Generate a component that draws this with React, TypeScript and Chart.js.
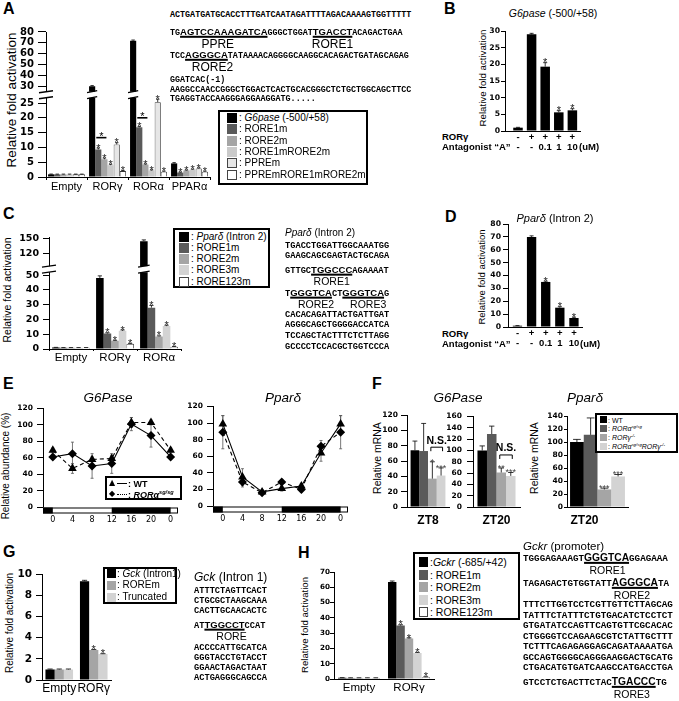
import React, { useEffect, useRef } from 'react';
import { Chart, registerables } from 'chart.js';

Chart.register(...registerables);

const SANS = '"Liberation Sans", Arial, sans-serif';
const MONO = '"Liberation Mono", "DejaVu Sans Mono", monospace';
const CH_SANS = '"Liberation Sans"';
const CH_NUM = '"DejaVu Sans"';

const BLACK = '#000000';
const DARK = '#5a5a5a';
const MID = '#a5a5a5';
const LIGHT = '#d3d3d3';
const PALE = '#e6e6e6';
const WHITE = '#ffffff';

// ---------------- DATA ----------------
// Panel A
const A_CATS = ['Empty', 'RORγ', 'RORα', 'PPARα'];
const A_G6PASE = [0.9, 30, 72, 4.6];
const A_G6PASE_ERR = [0.1, 0.6, 0.6, 0.25];
const A_RORE1M = [0.9, 9.3, 16.8, 1.5];
const A_RORE1M_ERR = [0.08, 0.5, 0.3, 0.15];
const A_RORE2M = [0.9, 6.0, 4.2, 2.2];
const A_RORE2M_ERR = [0.08, 0.4, 0.2, 0.15];
const A_RORE1M2M = [0.9, 4.0, 2.2, 2.5];
const A_RORE1M2M_ERR = [0.08, 0.3, 0.2, 0.15];
const A_PPREM = [0.9, 11.0, 25.3, 2.9];
const A_PPREM_ERR = [0.08, 0.6, 1.0, 0.15];
const A_PPREM1M2M = [0.9, 2.0, 1.8, 1.8];
const A_PPREM1M2M_ERR = [0.08, 0.2, 0.15, 0.15];
const A_NO_STARS = ['', '', '', ''];
const A_STARS = ['', '*', '*', '*'];
const A_TICKS = [0, 5, 10, 15, 20, 25, 30, 40, 50, 60, 70, 80];
const A_BRACKET_CATS = [1, 2];
const A_BRACKET_VALUES = [13.3, 20];

// Panel B
const B_ROR = ['-', '+', '+', '+', '+'];
const B_ANT = ['-', '-', '0.1', '1', '10'];
const B_VALUES = [1.0, 29.0, 19.3, 5.6, 6.2];
const B_ERR = [0.1, 0.3, 1.2, 0.5, 0.5];
const B_STARS = ['', '', '*', '*', '*'];
const B_TICKS = [0, 5, 10, 15, 20, 25, 30];

// Panel C
const C_CATS = ['Empty', 'RORγ', 'RORα'];
const C_PPARD = [1.0, 48, 145];
const C_PPARD_ERR = [0.1, 1.5, 2.5];
const C_RORE1M = [0.9, 10.5, 28];
const C_RORE1M_ERR = [0.08, 0.5, 1.5];
const C_RORE2M = [0.9, 5.5, 8.5];
const C_RORE2M_ERR = [0.08, 0.4, 0.4];
const C_RORE3M = [0.9, 12.3, 15.5];
const C_RORE3M_ERR = [0.08, 0.6, 0.6];
const C_RORE123M = [0.9, 3.5, 1.5];
const C_RORE123M_ERR = [0.08, 0.3, 0.2];
const C_STARS = ['', '*', '*'];
const C_TICKS = [0, 10, 20, 30, 40, 50, 120, 150];

// Panel D
const D_VALUES = [1.0, 70, 35, 15, 7];
const D_ERR = [0.1, 0.8, 0.6, 0.8, 0.6];
const D_STARS = ['', '', '*', '*', '*'];
const D_TICKS = [0, 10, 20, 30, 40, 50, 60, 70, 80];

// Panel E
const E_ZT = [0, 4, 8, 12, 16, 20, 24];
const E_XLABELS = ['0', '4', '8', '12', '16', '20', '0'];
const E_TICKS = [0, 20, 40, 60, 80, 100, 120];
const E_DARK = [[-2, 0], [12, 24]];
const E_G6_WT = [69, 47, 58, 59, 103, 103, 69];
const E_G6_WT_ERR = [3, 6, 3, 4, 6, 3, 3];
const E_G6_ROR = [61, 65, 50, 53, 101, 87, 61];
const E_G6_ROR_ERR = [3, 14, 15, 12, 8, 14, 3];
const E_PP_WT = [99, 35, 17, 21, 24, 64, 99];
const E_PP_WT_ERR = [10, 10, 2, 3, 3, 10, 10];
const E_PP_ROR = [89, 29, 16, 29, 20, 72, 89];
const E_PP_ROR_ERR = [20, 6, 2, 3, 3, 7, 20];

// Panel F
const F_COLORS = [BLACK, DARK, MID, LIGHT];
const F_ZT8_G6 = [74, 73, 37, 41];
const F_ZT8_G6_ERR = [12, 36, 22, 10];
const F_ZT8_G6_STARS = ['', '', '*', '***'];
const F_ZT20_G6 = [100, 129, 61, 55];
const F_ZT20_G6_ERR = [8, 14, 8, 6];
const F_ZT20_G6_STARS = ['', '', '**', '***'];
const F_ZT20_PP = [100, 111, 27, 47];
const F_ZT20_PP_ERR = [4, 26, 2, 3];
const F_ZT20_PP_STARS = ['', '', '***', '***'];
const F1_TICKS = [0, 20, 40, 60, 80, 100, 120];
const F2_TICKS = [0, 20, 40, 60, 80, 100, 120, 140, 160];
const F3_TICKS = [0, 20, 40, 60, 80, 100, 120, 140];

// Panel G
const G_CATS = ['Empty', 'RORγ'];
const G_GCK = [1.0, 9.35];
const G_GCK_ERR = [0.04, 0.08];
const G_ROREM = [1.0, 2.85];
const G_ROREM_ERR = [0.04, 0.04];
const G_TRUNC = [1.0, 2.45];
const G_TRUNC_ERR = [0.04, 0.04];
const G_STARS = ['', '*'];
const G_TICKS = [0, 2, 4, 6, 8, 10];

// Panel H
const H_CATS = ['Empty', 'RORγ'];
const H_GCKR = [0.8, 63.5];
const H_GCKR_ERR = [0.1, 0.6];
const H_RORE1M = [0.7, 35];
const H_RORE1M_ERR = [0.1, 0.5];
const H_RORE2M = [0.7, 26.5];
const H_RORE2M_ERR = [0.1, 0.4];
const H_RORE3M = [0.7, 17];
const H_RORE3M_ERR = [0.1, 0.4];
const H_RORE123M = [0.7, 1.2];
const H_RORE123M_ERR = [0.1, 0.3];
const H_STARS = ['', '*'];
const H_TICKS = [0, 10, 20, 30, 40, 50, 60, 70];

// ---------------- HELPERS ----------------
function makeBreak(loMax: number, hiMin: number, hiMinD: number, hiSlope: number) {
  return (v: number) =>
    v <= loMax ? v : v >= hiMin ? hiMinD + (v - hiMin) * hiSlope : loMax + ((v - loMax) * (hiMinD - loMax)) / (hiMin - loMax);
}

const PT = 8;
const PR = 3;
function rectOf(s: any) {
  return {
    left: s.x0 - s.yW,
    top: s.y0 - PT,
    width: Math.round(s.x1 - s.x0 + s.yW + PR),
    height: Math.round(s.y1 - s.y0 + PT + s.xH),
  };
}

function yScale(s: any, tf: (v: number) => number) {
  return {
    min: 0,
    max: s.yMax,
    afterBuildTicks: (sc: any) => {
      sc.ticks = s.yTicks.map((v: number) => ({ value: tf(v) }));
    },
    ticks: {
      callback: (_v: any, i: number) => String(s.yTicks[i]),
      font: { family: CH_NUM, size: s.tickFont, weight: 'bold' },
      color: '#000',
      padding: s.tickPad,
      autoSkip: false,
    },
    grid: { display: true, drawOnChartArea: false, drawTicks: true, tickLength: s.tickLen, color: '#000', lineWidth: 1 },
    border: { display: true, color: '#000', width: 1 },
    afterFit: (sc: any) => {
      sc.width = s.yW;
    },
  };
}

function starY(yTop: number, size: number) {
  return yTop - 1 + size * 0.42;
}

function barConfig(s: any) {
  const tf = s.tf || ((v: number) => v);
  const datasets = s.series.map((se: any) => ({
    data: s.linear ? se.values.map((v: number, i: number) => ({ x: i, y: tf(v) })) : se.values.map((v: number) => tf(v)),
    backgroundColor: se.color,
    borderColor: '#333333',
    borderWidth: se.border ? 0.8 : 0,
    categoryPercentage: s.catPct,
    barPercentage: s.barPct,
  }));
  const xTicks: any = {
    color: '#000',
    font: { family: CH_SANS, size: s.xFont, weight: s.xBold ? 'bold' : 'normal', lineHeight: s.xLineH || 1.2 },
    padding: s.xPad,
    maxRotation: 0,
    minRotation: 0,
    autoSkip: false,
    labelOffset: s.xLabelOffset || 0,
  };
  if (s.linear) xTicks.callback = (_v: any, i: number) => s.labels[i];
  const x: any = {
    type: s.linear ? 'linear' : 'category',
    offset: !s.linear,
    grid: {
      display: s.xTickLen > 0,
      drawOnChartArea: false,
      drawTicks: s.xTickLen > 0,
      tickLength: s.xTickLen,
      color: '#000',
      offset: true,
    },
    border: { display: true, color: '#000', width: 1 },
    ticks: xTicks,
    afterFit: (sc: any) => {
      sc.height = s.xH;
    },
  };
  if (s.linear) {
    x.min = s.linear.min;
    x.max = s.linear.max;
    x.afterBuildTicks = (sc: any) => {
      sc.ticks = s.labels.map((_l: any, i: number) => ({ value: i }));
    };
  }
  const plugin = {
    id: 'marks',
    afterDatasetsDraw(chart: any) {
      const ctx = chart.ctx;
      const ys = chart.scales.y;
      const area = chart.chartArea;
      ctx.save();
      if (s.breakD !== undefined) {
        const py = ys.getPixelForValue(s.breakD);
        const h = 3;
        const drawBreak = (xa: number, xb: number) => {
          ctx.fillStyle = '#fff';
          ctx.fillRect(xa, py - h, xb - xa, 2 * h);
          ctx.strokeStyle = '#000';
          ctx.lineWidth = 1.3;
          ctx.beginPath();
          ctx.moveTo(xa, py - h + 1);
          ctx.lineTo(xb, py - h - 1);
          ctx.moveTo(xa, py + h + 1);
          ctx.lineTo(xb, py + h - 1);
          ctx.stroke();
        };
        drawBreak(area.left - 7, area.left + 7);
        s.series.forEach((se: any, di: number) => {
          chart.getDatasetMeta(di).data.forEach((el: any, j: number) => {
            if (se.values[j] > s.breakLo) drawBreak(el.x - el.width / 2 - 2, el.x + el.width / 2 + 2);
          });
        });
      }
      s.series.forEach((se: any, di: number) => {
        chart.getDatasetMeta(di).data.forEach((el: any, j: number) => {
          const v = se.values[j];
          const e = se.errors[j];
          const yv = ys.getPixelForValue(tf(v));
          const yt = ys.getPixelForValue(tf(v + e));
          const cw = s.capW !== undefined ? s.capW : el.width * 0.28;
          ctx.strokeStyle = '#000';
          ctx.lineWidth = 0.8;
          ctx.beginPath();
          ctx.moveTo(el.x, yv);
          ctx.lineTo(el.x, yt);
          ctx.moveTo(el.x - cw, yt);
          ctx.lineTo(el.x + cw, yt);
          ctx.stroke();
          const st = se.stars[j];
          if (st) {
            ctx.fillStyle = s.starColor || '#222';
            ctx.font = `${s.starSize}px ${CH_SANS}`;
            ctx.textAlign = 'center';
            ctx.textBaseline = 'alphabetic';
            ctx.fillText(st, el.x, starY(yt, s.starSize));
          }
        });
      });
      (s.brackets || []).forEach((b: any) => {
        const xa = chart.getDatasetMeta(b.from).data[b.cat].x - b.ext;
        const xb = chart.getDatasetMeta(b.to).data[b.cat].x + b.ext;
        const py = ys.getPixelForValue(tf(b.v));
        ctx.strokeStyle = '#000';
        ctx.lineWidth = b.lw || 1;
        ctx.beginPath();
        ctx.moveTo(xa, py + b.legs);
        ctx.lineTo(xa, py);
        ctx.lineTo(xb, py);
        ctx.lineTo(xb, py + b.legs);
        ctx.stroke();
        ctx.fillStyle = '#000';
        ctx.font = `${b.bold ? 'bold ' : ''}${b.font}px ${CH_SANS}`;
        ctx.textAlign = 'center';
        ctx.textBaseline = 'alphabetic';
        const isStar = b.label.charAt(0) === '*';
        ctx.fillText(b.label, (xa + xb) / 2, isStar ? starY(py - 1, b.font) : py - 3.5);
      });
      ctx.restore();
    },
  };
  return {
    type: 'bar',
    data: s.linear ? { datasets } : { labels: s.labels, datasets },
    options: {
      responsive: false,
      animation: false,
      devicePixelRatio: 1,
      events: [],
      layout: { padding: { top: PT, right: PR, left: 0, bottom: 0 } },
      plugins: { legend: { display: false }, tooltip: { enabled: false }, title: { display: false } },
      scales: { x, y: yScale(s, tf) },
    },
    plugins: [plugin],
  };
}

function lineConfig(s: any) {
  const mk = (vals: number[], dash: number[], style: string, r: number) => ({
    data: E_ZT.map((xv, i) => ({ x: xv, y: vals[i] })),
    borderColor: '#000',
    backgroundColor: '#000',
    borderWidth: 1.1,
    borderDash: dash,
    pointStyle: style,
    pointRadius: r,
    pointBorderWidth: 0,
    pointBackgroundColor: '#000',
    tension: 0,
  });
  const errs: any[] = [
    [s.wt, s.wtErr],
    [s.ror, s.rorErr],
  ];
  const plugin = {
    id: 'eMarks',
    beforeDatasetsDraw(chart: any) {
      const ctx = chart.ctx;
      const ys = chart.scales.y;
      ctx.save();
      ctx.strokeStyle = '#555';
      ctx.lineWidth = 0.8;
      errs.forEach((pair: any, di: number) => {
        const vals = pair[0];
        const er = pair[1];
        chart.getDatasetMeta(di).data.forEach((el: any, j: number) => {
          const ya = ys.getPixelForValue(vals[j] - er[j]);
          const yb = ys.getPixelForValue(vals[j] + er[j]);
          ctx.beginPath();
          ctx.moveTo(el.x, ya);
          ctx.lineTo(el.x, yb);
          ctx.moveTo(el.x - 1.5, ya);
          ctx.lineTo(el.x + 1.5, ya);
          ctx.moveTo(el.x - 1.5, yb);
          ctx.lineTo(el.x + 1.5, yb);
          ctx.stroke();
        });
      });
      ctx.restore();
    },
    afterDraw(chart: any) {
      const ctx = chart.ctx;
      const xs = chart.scales.x;
      const a = chart.chartArea;
      const top = a.bottom + 0.5;
      const h = 6;
      ctx.save();
      ctx.fillStyle = '#fff';
      ctx.fillRect(a.left, top, a.right - a.left, h);
      ctx.strokeStyle = '#000';
      ctx.lineWidth = 1;
      ctx.strokeRect(a.left + 0.5, top + 0.5, a.right - a.left - 1, h - 1);
      ctx.fillStyle = '#000';
      E_DARK.forEach((seg) => {
        const p0 = xs.getPixelForValue(seg[0]);
        const p1 = xs.getPixelForValue(seg[1]);
        ctx.fillRect(p0, top, p1 - p0, h);
      });
      ctx.restore();
    },
  };
  const x: any = {
    type: 'linear',
    min: -2,
    max: 25.5,
    afterBuildTicks: (sc: any) => {
      sc.ticks = E_ZT.map((v) => ({ value: v }));
    },
    ticks: {
      callback: (_v: any, i: number) => E_XLABELS[i],
      font: { family: CH_NUM, size: 8 },
      color: '#000',
      padding: 8,
      maxRotation: 0,
      minRotation: 0,
      autoSkip: false,
    },
    grid: { display: false, drawTicks: false },
    border: { display: false },
    afterFit: (sc: any) => {
      sc.height = s.xH;
    },
  };
  return {
    type: 'line',
    data: { datasets: [mk(s.wt, s.wtDash, 'triangle', 5), mk(s.ror, s.rorDash, 'rectRot', 4.5)] },
    options: {
      responsive: false,
      animation: false,
      devicePixelRatio: 1,
      events: [],
      layout: { padding: { top: PT, right: PR, left: 0, bottom: 0 } },
      plugins: { legend: { display: false }, tooltip: { enabled: false } },
      scales: { x, y: yScale(s, (v: number) => v) },
    },
    plugins: [plugin],
  };
}

// ---------------- SPECS ----------------
const A_SPEC = {
  x0: 46, x1: 210, y0: 30, y1: 177, yW: 30, xH: 20,
  labels: A_CATS,
  series: [
    { values: A_G6PASE, errors: A_G6PASE_ERR, stars: A_NO_STARS, color: BLACK },
    { values: A_RORE1M, errors: A_RORE1M_ERR, stars: A_STARS, color: DARK },
    { values: A_RORE2M, errors: A_RORE2M_ERR, stars: A_STARS, color: MID },
    { values: A_RORE1M2M, errors: A_RORE1M2M_ERR, stars: A_STARS, color: '#cacaca' },
    { values: A_PPREM, errors: A_PPREM_ERR, stars: A_STARS, color: PALE, border: true },
    { values: A_PPREM1M2M, errors: A_PPREM1M2M_ERR, stars: A_STARS, color: WHITE, border: true },
  ],
  catPct: 0.9, barPct: 1,
  yMax: 49, yTicks: A_TICKS, tf: makeBreak(27, 30, 30.667, 0.3667),
  tickFont: 10, tickLen: 8, tickPad: 4,
  xFont: 11, xTickLen: 3, xPad: 0,
  breakD: 27.8, breakLo: 27,
  starSize: 11,
  brackets: A_BRACKET_CATS.map((c, i) => ({ cat: c, from: 1, to: 2, v: A_BRACKET_VALUES[i], label: '*', legs: 0, font: 11, ext: 2, lw: 1.6 })),
};

const B_SPEC = {
  x0: 505, x1: 580, y0: 31, y1: 131, yW: 22, xH: 26,
  labels: B_ROR.map((r, i) => [r, B_ANT[i]]),
  linear: { min: -0.956, max: 4.56 },
  series: [{ values: B_VALUES, errors: B_ERR, stars: B_STARS, color: BLACK }],
  catPct: 1, barPct: 0.7,
  yMax: 30, yTicks: B_TICKS,
  tickFont: 7.7, tickLen: 4, tickPad: 1,
  xFont: 9.5, xBold: true, xLineH: 1.05, xTickLen: 0, xPad: 1,
  starSize: 11, capW: 2,
};

const C_SPEC = {
  x0: 49, x1: 181, y0: 236, y1: 349, yW: 34, xH: 16,
  labels: C_CATS,
  series: [
    { values: C_PPARD, errors: C_PPARD_ERR, stars: ['', '', ''], color: BLACK },
    { values: C_RORE1M, errors: C_RORE1M_ERR, stars: C_STARS, color: DARK },
    { values: C_RORE2M, errors: C_RORE2M_ERR, stars: C_STARS, color: MID },
    { values: C_RORE3M, errors: C_RORE3M_ERR, stars: C_STARS, color: LIGHT },
    { values: C_RORE123M, errors: C_RORE123M_ERR, stars: C_STARS, color: WHITE, border: true },
  ],
  catPct: 0.86, barPct: 1,
  yMax: 75.33, yTicks: C_TICKS, tf: makeBreak(55, 115, 63, 1 / 3),
  tickFont: 9.5, tickLen: 6, tickPad: 4,
  xFont: 11.5, xTickLen: 2, xPad: 0,
  breakD: 54, breakLo: 55,
  starSize: 11,
};

const D_SPEC = {
  x0: 508, x1: 582, y0: 224, y1: 327, yW: 22, xH: 26,
  labels: B_ROR.map((r, i) => [r, B_ANT[i]]),
  linear: { min: -0.67, max: 4.57 },
  series: [{ values: D_VALUES, errors: D_ERR, stars: D_STARS, color: BLACK }],
  catPct: 1, barPct: 0.66,
  yMax: 80, yTicks: D_TICKS,
  tickFont: 7.7, tickLen: 5, tickPad: 2,
  xFont: 9.5, xBold: true, xLineH: 1.05, xTickLen: 0, xPad: 1,
  starSize: 11, capW: 2,
};

const E1_SPEC = {
  x0: 43, x1: 180, y0: 408, y1: 507, yW: 30, xH: 22,
  yMax: 120, yTicks: E_TICKS, tickFont: 7.5, tickLen: 6, tickPad: 4,
  wt: E_G6_WT, wtErr: E_G6_WT_ERR, ror: E_G6_ROR, rorErr: E_G6_ROR_ERR,
  wtDash: [4, 3], rorDash: [],
};
const E2_SPEC = {
  x0: 213, x1: 350, y0: 406, y1: 506, yW: 30, xH: 22,
  yMax: 120, yTicks: E_TICKS, tickFont: 7.5, tickLen: 6, tickPad: 4,
  wt: E_PP_WT, wtErr: E_PP_WT_ERR, ror: E_PP_ROR, rorErr: E_PP_ROR_ERR,
  wtDash: [], rorDash: [4, 3],
};

function fSeries(vals: number[], errs: number[], stars: string[]) {
  return F_COLORS.map((c, k) => ({ values: [vals[k]], errors: [errs[k]], stars: [stars[k]], color: c }));
}
const F_COMMON = {
  xH: 22, tickFont: 7.5, tickLen: 6, xFont: 12, xBold: true, xTickLen: 0, xPad: 6, barPct: 1, starSize: 9, starColor: '#444',
};
const F1_SPEC = {
  ...F_COMMON, x0: 407, x1: 449, y0: 415, y1: 507, yW: 26, tickPad: 3,
  labels: ['ZT8'], series: fSeries(F_ZT8_G6, F_ZT8_G6_ERR, F_ZT8_G6_STARS), catPct: 0.83,
  yMax: 120, yTicks: F1_TICKS,
  brackets: [{ cat: 0, from: 2, to: 3, v: 78, label: 'N.S.', legs: 4, font: 10.5, bold: true, ext: 1.5, lw: 1 }],
};
const F2_SPEC = {
  ...F_COMMON, x0: 473, x1: 520, y0: 415, y1: 507, yW: 26, tickPad: 5,
  labels: ['ZT20'], series: fSeries(F_ZT20_G6, F_ZT20_G6_ERR, F_ZT20_G6_STARS), catPct: 0.81,
  yMax: 160, yTicks: F2_TICKS,
  brackets: [{ cat: 0, from: 2, to: 3, v: 92, label: 'N.S.', legs: 4, font: 10.5, bold: true, ext: 1.5, lw: 1 }],
};
const F3_SPEC = {
  ...F_COMMON, x0: 567, x1: 628, y0: 416, y1: 507, yW: 22, tickLen: 3, tickPad: 1,
  labels: ['ZT20'], series: fSeries(F_ZT20_PP, F_ZT20_PP_ERR, F_ZT20_PP_STARS), catPct: 0.9,
  yMax: 140, yTicks: F3_TICKS, xLabelOffset: -13,
};

const G_SPEC = {
  x0: 42, x1: 111, y0: 572, y1: 680, yW: 32, xH: 16,
  labels: G_CATS,
  series: [
    { values: G_GCK, errors: G_GCK_ERR, stars: ['', ''], color: BLACK },
    { values: G_ROREM, errors: G_ROREM_ERR, stars: G_STARS, color: MID },
    { values: G_TRUNC, errors: G_TRUNC_ERR, stars: G_STARS, color: LIGHT },
  ],
  catPct: 0.8, barPct: 1,
  yMax: 10, yTicks: G_TICKS,
  tickFont: 10.5, tickLen: 6, tickPad: 4,
  xFont: 12, xTickLen: 0, xPad: 1,
  starSize: 11,
};

const H_SPEC = {
  x0: 334, x1: 434, y0: 572, y1: 679, yW: 20, xH: 16,
  labels: H_CATS,
  series: [
    { values: H_GCKR, errors: H_GCKR_ERR, stars: ['', ''], color: BLACK },
    { values: H_RORE1M, errors: H_RORE1M_ERR, stars: H_STARS, color: DARK },
    { values: H_RORE2M, errors: H_RORE2M_ERR, stars: H_STARS, color: MID },
    { values: H_RORE3M, errors: H_RORE3M_ERR, stars: H_STARS, color: LIGHT },
    { values: H_RORE123M, errors: H_RORE123M_ERR, stars: H_STARS, color: WHITE, border: true },
  ],
  catPct: 0.84, barPct: 1,
  yMax: 70, yTicks: H_TICKS,
  tickFont: 7.2, tickLen: 4, tickPad: 0,
  xFont: 11.5, xTickLen: 0, xPad: 2,
  starSize: 11,
};

// ---------------- SEQUENCES ----------------
const A_SEQ = [
  { y: 15, parts: ['ACTGATGATGCACCTTTGATCAATAGATTTTAGACAAAAGTGGTTTTT'] },
  { y: 32, parts: ['TG', { m: 'AGTCCAAAGATCA', label: 'PPRE', dx: -6 }, 'GGGCTGGAT', { m: 'TGACCT', label: 'RORE1', dx: 0 }, 'ACAGACTGAA'] },
  { y: 55, parts: ['TCC', { m: 'AGGGCA', label: 'RORE2', dx: 6 }, 'TATAAAACAGGGGCAAGGCACAGACTGATAGCAGAG'] },
  { y: 80, parts: ['GGATCAC(-1)'] },
  { y: 90, parts: ['AAGGCCAACCGGGCTGGACTCACTGCACGGGCTCTGCTGGCAGCTTCC'] },
  { y: 99, parts: ['TGAGGTACCAAGGGAGGAAGGATG.....'] },
];
const C_SEQ = [
  { y: 246, parts: ['TGACCTGGATTGGCAAATGG'] },
  { y: 256, parts: ['GAAGCAGCGAGTACTGCAGA'] },
  { y: 270, parts: ['GTTGC', { m: 'TGGCCC', label: 'RORE1', dx: 0 }, 'AGAAAAT'] },
  { y: 293, parts: ['T', { m: 'GGGTCA', label: 'RORE2', dx: 5 }, 'CT', { m: 'GGGTCA', label: 'RORE3', dx: 5 }, 'G'] },
  { y: 315, parts: ['CACACAGATTACTGATTGAT'] },
  { y: 325, parts: ['AGGGCAGCTGGGGACCATCA'] },
  { y: 336, parts: ['TCCAGCTACTTTCTCTTAGG'] },
  { y: 347, parts: ['GCCCCTCCACGCTGGTCCCA'] },
];
const G_SEQ = [
  { y: 591, parts: ['ATTTCTAGTTCACT'] },
  { y: 601, parts: ['CTGCGCTAAGCAAA'] },
  { y: 611, parts: ['CACTTGCAACACTC'] },
  { y: 625, parts: ['AT', { m: 'TGGCCT', label: 'RORE', dx: 7 }, 'CCAT'] },
  { y: 648, parts: ['ACCCCATTGCATCA'] },
  { y: 658, parts: ['GGGTACCTGTACCT'] },
  { y: 668, parts: ['GGAACTAGACTAAT'] },
  { y: 678, parts: ['ACTGAGGGCAGCCA'] },
];
const H_SEQ = [
  { y: 558, parts: ['TGGGAGAAAGT', { m: 'GGGTCA', label: 'RORE1', dx: 1 }, 'GGAGAAA'] },
  { y: 583, parts: ['TAGAGACTGTGGTATT', { m: 'AGGGCA', label: 'RORE2', dx: -3 }, 'TA'] },
  { y: 605, parts: ['TTTCTTGGTCCTCGTTGTTCTTAGCAG'] },
  { y: 616, parts: ['TATTTCTATTTCTGTGACATCTCCTCT'] },
  { y: 626, parts: ['GTGATATCCAGTTCAGTGTTCGCACAC'] },
  { y: 637, parts: ['CTGGGGTCCAGAAGCGTCTATTGCTTT'] },
  { y: 647, parts: ['TCTTTCAGAGAGGAGCAGATAAAATGA'] },
  { y: 658, parts: ['GCCAGTGGGGCAGGGAAGGACTGCATG'] },
  { y: 668, parts: ['CTGACATGTGATCAAGCCATGACCTGA'] },
  { y: 682, parts: ['GTCCTCTGACTTCTAC', { m: 'TGACCC', label: 'RORE3', dx: -2 }, 'TG'] },
];

// ---------------- COMPONENTS ----------------
function ChartBox({ spec, build }: any) {
  const ref = useRef<HTMLCanvasElement | null>(null);
  const r = rectOf(spec);
  useEffect(() => {
    const chart = new Chart(ref.current as HTMLCanvasElement, build(spec) as any);
    return () => chart.destroy();
  }, []);
  return (
    <canvas
      ref={ref}
      width={r.width}
      height={r.height}
      style={{ position: 'absolute', left: r.left, top: r.top, width: r.width, height: r.height }}
    />
  );
}

function Txt({ x, y, s, children, bold = false, it = false, anchor = 'start', fam = SANS }: any) {
  const tx = anchor === 'middle' ? '-50%' : anchor === 'end' ? '-100%' : '0';
  return (
    <div
      style={{
        position: 'absolute', left: x, top: y, transform: `translate(${tx}, -50%)`,
        fontFamily: fam, fontSize: s, fontWeight: bold ? 'bold' : 'normal', fontStyle: it ? 'italic' : 'normal',
        lineHeight: 1, whiteSpace: 'nowrap', color: '#000',
      }}
    >
      {children}
    </div>
  );
}

function VTxt({ x, y, s, children }: any) {
  return (
    <div
      style={{
        position: 'absolute', left: x, top: y, transform: 'translate(-50%, -50%) rotate(-90deg)',
        fontFamily: SANS, fontSize: s, lineHeight: 1, whiteSpace: 'nowrap', color: '#000',
      }}
    >
      {children}
    </div>
  );
}

const I = ({ children }: any) => <span style={{ fontStyle: 'italic' }}>{children}</span>;
const Sup = ({ children }: any) => (
  <span style={{ fontSize: '0.62em', position: 'relative', top: '-0.55em' }}>{children}</span>
);

function Legend({ x, y, w, h, rows, first, step, swX, swW, swH, textX, font, bw = 2 }: any) {
  return (
    <div
      style={{
        position: 'absolute', left: x, top: y, width: w, height: h, border: `${bw}px solid #000`,
        boxSizing: 'border-box', background: '#fff',
      }}
    >
      {rows.map((r: any, i: number) => {
        const cy = first + i * step - y - bw;
        return (
          <React.Fragment key={i}>
            <div
              style={{
                position: 'absolute', left: swX - x - bw, top: cy - swH / 2, width: swW, height: swH,
                background: r.color, border: r.border ? '1px solid #444' : 'none', boxSizing: 'border-box',
              }}
            />
            <div
              style={{
                position: 'absolute', left: textX - x - bw, top: cy, transform: 'translateY(-50%)',
                fontFamily: SANS, fontSize: font, lineHeight: 1, whiteSpace: 'nowrap', color: '#000',
              }}
            >
              {r.content}
            </div>
          </React.Fragment>
        );
      })}
    </div>
  );
}

function Seq({ x, lines, mono, motif, labelSize, labelOff }: any) {
  return (
    <>
      {lines.map((ln: any, k: number) => (
        <div
          key={k}
          style={{
            position: 'absolute', left: x, top: ln.y, transform: 'translateY(-50%)', whiteSpace: 'nowrap',
            lineHeight: 1, fontFamily: MONO, fontSize: mono, fontWeight: 'bold', color: '#000',
          }}
        >
          {ln.parts.map((p: any, i: number) =>
            typeof p === 'string' ? (
              <span key={i}>{p}</span>
            ) : (
              <span
                key={i}
                style={{
                  position: 'relative', fontFamily: SANS, fontWeight: 'bold', fontSize: motif,
                  textDecoration: 'underline', textDecorationThickness: '1.5px', textUnderlineOffset: '1px',
                }}
              >
                {p.m}
                <span
                  style={{
                    position: 'absolute', left: `calc(50% + ${p.dx || 0}px)`, top: 0.545 * motif + labelOff,
                    transform: 'translate(-50%, -50%)', fontWeight: 'normal', fontSize: labelSize,
                    fontFamily: SANS, whiteSpace: 'nowrap', lineHeight: 1,
                  }}
                >
                  {p.label}
                </span>
              </span>
            ),
          )}
        </div>
      ))}
    </>
  );
}

export default function App() {
  return (
    <div
      style={{
        position: 'absolute', left: 0, top: 0, width: 679, height: 701, background: '#fff',
        overflow: 'hidden', fontFamily: SANS, color: '#000',
      }}
    >
      {/* panel letters */}
      <Txt x={3} y={9} s={16} bold>A</Txt>
      <Txt x={444} y={8.5} s={16} bold>B</Txt>
      <Txt x={3} y={214} s={16} bold>C</Txt>
      <Txt x={445} y={217} s={16} bold>D</Txt>
      <Txt x={3} y={384} s={16} bold>E</Txt>
      <Txt x={372} y={384} s={16} bold>F</Txt>
      <Txt x={3} y={552} s={16} bold>G</Txt>
      <Txt x={298} y={553} s={16} bold>H</Txt>

      {/* y-axis titles */}
      <VTxt x={12} y={100} s={13.5}>Relative fold activation</VTxt>
      <VTxt x={483} y={78} s={9.7}>Relative fold activation</VTxt>
      <VTxt x={7} y={290} s={10.5}>Relative fold activation</VTxt>
      <VTxt x={482} y={277} s={9.5}>Relative fold activation</VTxt>
      <VTxt x={6} y={466} s={10}>Relative abundance (%)</VTxt>
      <VTxt x={377} y={458} s={10.5}>Relative mRNA</VTxt>
      <VTxt x={534} y={458} s={10.5}>Relative mRNA</VTxt>
      <VTxt x={10} y={623} s={10}>Relative fold activation</VTxt>
      <VTxt x={305} y={625} s={9.6}>Relative fold activation</VTxt>

      {/* charts */}
      <ChartBox spec={A_SPEC} build={barConfig} />
      <ChartBox spec={B_SPEC} build={barConfig} />
      <ChartBox spec={C_SPEC} build={barConfig} />
      <ChartBox spec={D_SPEC} build={barConfig} />
      <ChartBox spec={E1_SPEC} build={lineConfig} />
      <ChartBox spec={E2_SPEC} build={lineConfig} />
      <ChartBox spec={F1_SPEC} build={barConfig} />
      <ChartBox spec={F2_SPEC} build={barConfig} />
      <ChartBox spec={F3_SPEC} build={barConfig} />
      <ChartBox spec={G_SPEC} build={barConfig} />
      <ChartBox spec={H_SPEC} build={barConfig} />

      {/* panel B & D titles and rows */}
      <Txt x={553} y={12.5} s={10.5} anchor="middle"><I>G6pase</I> (-500/+58)</Txt>
      <Txt x={442} y={137} s={9.5} bold>RORγ</Txt>
      <Txt x={442} y={147} s={9.5} bold>Antagonist “A”</Txt>
      <Txt x={579} y={147} s={9.5} bold>(uM)</Txt>
      <Txt x={555} y={218} s={11} anchor="middle"><I>Pparδ</I> (Intron 2)</Txt>
      <Txt x={442} y={334} s={9.5} bold>RORγ</Txt>
      <Txt x={442} y={344} s={9.5} bold>Antagonist “A”</Txt>
      <Txt x={580} y={344} s={9.5} bold>(uM)</Txt>

      {/* E / F titles */}
      <Txt x={108} y={398} s={13.5} it anchor="middle">G6Pase</Txt>
      <Txt x={283} y={398} s={13.5} it anchor="middle">Pparδ</Txt>
      <Txt x={458} y={398} s={13.5} it anchor="middle">G6Pase</Txt>
      <Txt x={585} y={398} s={13.5} it anchor="middle">Pparδ</Txt>

      {/* legends */}
      <Legend
        x={218} y={110} w={150} h={75} first={118} step={11.3} swX={227} swW={10} swH={10} textX={239} font={10}
        rows={[
          { color: BLACK, content: <>: <I>G6pase</I> (-500/+58)</> },
          { color: DARK, content: ': RORE1m' },
          { color: MID, content: ': RORE2m' },
          { color: '#cacaca', content: ': RORE1mRORE2m' },
          { color: PALE, border: true, content: ': PPREm' },
          { color: WHITE, border: true, content: ': PPREmRORE1mRORE2m' },
        ]}
      />
      <Legend
        x={173} y={228} w={97} h={60} first={236.7} step={11.2} swX={179} swW={10} swH={10} textX={191} font={10}
        rows={[
          { color: BLACK, content: <>: <I>Pparδ</I> (Intron 2)</> },
          { color: DARK, content: ': RORE1m' },
          { color: MID, content: ': RORE2m' },
          { color: LIGHT, content: ': RORE3m' },
          { color: WHITE, border: true, content: ': RORE123m' },
        ]}
      />
      <Legend
        x={595} y={413} w={83} h={40} first={419.5} step={9} swX={600} swW={7} swH={7} textX={608} font={7}
        rows={[
          { color: BLACK, content: ': WT' },
          { color: DARK, content: <>: <I>RORα<Sup>sg/sg</Sup></I></> },
          { color: MID, content: <>: <I>RORγ<Sup>-/-</Sup></I></> },
          { color: LIGHT, content: <>: <I>RORα<Sup>sg/sg</Sup>RORγ<Sup>-/-</Sup></I></> },
        ]}
      />
      <Legend
        x={103} y={567} w={74} h={37} first={573.5} step={11.8} swX={107} swW={9} swH={9} textX={117} font={10}
        rows={[
          { color: BLACK, content: <>: <I>Gck</I> (Intron1)</> },
          { color: MID, content: ': ROREm' },
          { color: LIGHT, content: ': Truncated' },
        ]}
      />
      <Legend
        x={413} y={552} w={107} h={68} first={562} step={12.5} swX={419} swW={9} swH={10} textX={430} font={10.5}
        rows={[
          { color: BLACK, content: <>:<I>Gckr</I> (-685/+42)</> },
          { color: DARK, content: ': RORE1m' },
          { color: MID, content: ': RORE2m' },
          { color: LIGHT, content: ': RORE3m' },
          { color: WHITE, border: true, content: ': RORE123m' },
        ]}
      />
      {/* E legend */}
      <div style={{ position: 'absolute', left: 105, top: 476, width: 77, height: 24, border: '2px solid #000', boxSizing: 'border-box', background: '#fff' }}>
        <Txt x={2} y={5} s={8} fam='"DejaVu Sans"'>▲</Txt>
        <div style={{ position: 'absolute', left: 10, top: 5, width: 10, height: 0, borderTop: '1.3px solid #000' }} />
        <Txt x={21} y={5.5} s={9} bold>: WT</Txt>
        <Txt x={2} y={16} s={8} fam='"DejaVu Sans"'>◆</Txt>
        <div style={{ position: 'absolute', left: 10, top: 16, width: 10, height: 0, borderTop: '1.5px dotted #000' }} />
        <Txt x={21} y={16.5} s={9} bold>: <I>RORα<Sup>sg/sg</Sup></I></Txt>
      </div>

      {/* sequences */}
      <Seq x={170} lines={A_SEQ} mono={8.4} motif={9.5} labelSize={12} labelOff={13} />
      <Txt x={285} y={233} s={10}><I>Pparδ</I> (Intron 2)</Txt>
      <Seq x={285} lines={C_SEQ} mono={8.7} motif={9.5} labelSize={10.5} labelOff={13} />
      <Txt x={194} y={577} s={12}><I>Gck</I> (Intron 1)</Txt>
      <Seq x={194} lines={G_SEQ} mono={8.7} motif={9.5} labelSize={10.5} labelOff={13} />
      <Txt x={523} y={547} s={11.5}><I>Gckr</I> (promoter)</Txt>
      <Seq x={523} lines={H_SEQ} mono={9.25} motif={10.25} labelSize={10.5} labelOff={12.5} />
    </div>
  );
}
